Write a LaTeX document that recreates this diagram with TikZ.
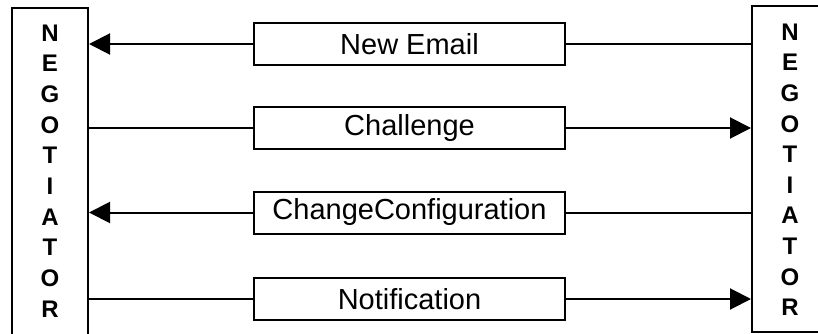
\documentclass[tikz,border=0pt]{standalone}
\usepackage{fontspec}
\setmainfont{Liberation Sans}
\usetikzlibrary{arrows.meta}

\tikzset{
  negbox/.style={draw,line width=2pt,minimum width=#1,inner sep=0pt},
  msgbox/.style={draw,line width=2pt,minimum width=311pt,minimum height=42pt,
    inner sep=0pt,font=\fontsize{29}{30}\selectfont},
  letter/.style={font=\bfseries\fontsize{24}{26}\selectfont,inner sep=0pt},
  msgline/.style={line width=2pt},
  msgarrow/.style={line width=2pt,-{Triangle[length=21pt,width=21pt]}}
}

\begin{document}
\begin{tikzpicture}[x=1pt,y=-1pt]
   \useasboundingbox (0,0) rectangle (818,334);
   % the two negotiators
   \node[negbox=76pt,minimum height=336pt] (negL) at (50,176) {};
   \node[negbox=80pt,minimum height=326pt] (negR) at (792,169) {};
   \foreach \c [count=\i] in {N,E,G,O,T,I,A,T,O,R} {
     \node[letter] (ll\i) at (50,{33+30.67*(\i-1)}) {\c};
     \node[letter] (rl\i) at (790,{32+30.6*(\i-1)}) {\c};
   }
   % messages
   \node[msgbox] (mNew) at (409.5,44) {New Email};
   \node[msgbox] (mChal) at (409.5,128) {Challenge};
   \node[msgbox] (mConf) at (409.5,212.5) {ChangeConfiguration};
   \node[msgbox] (mNote) at (409.5,299) {Notification};
   % connectors
   \draw[msgarrow] (mNew.west) -- (negL.east |- mNew.west);
   \draw[msgline] (mNew.east) -- (negR.west |- mNew.east);
   \draw[msgline] (negL.east |- mChal.west) -- (mChal.west);
   \draw[msgarrow] (mChal.east) -- (negR.west |- mChal.east);
   \draw[msgarrow] (mConf.west) -- (negL.east |- mConf.west);
   \draw[msgline] (mConf.east) -- (negR.west |- mConf.east);
   \draw[msgline] (negL.east |- mNote.west) -- (mNote.west);
   \draw[msgarrow] (mNote.east) -- (negR.west |- mNote.east);
\end{tikzpicture}
\end{document}
